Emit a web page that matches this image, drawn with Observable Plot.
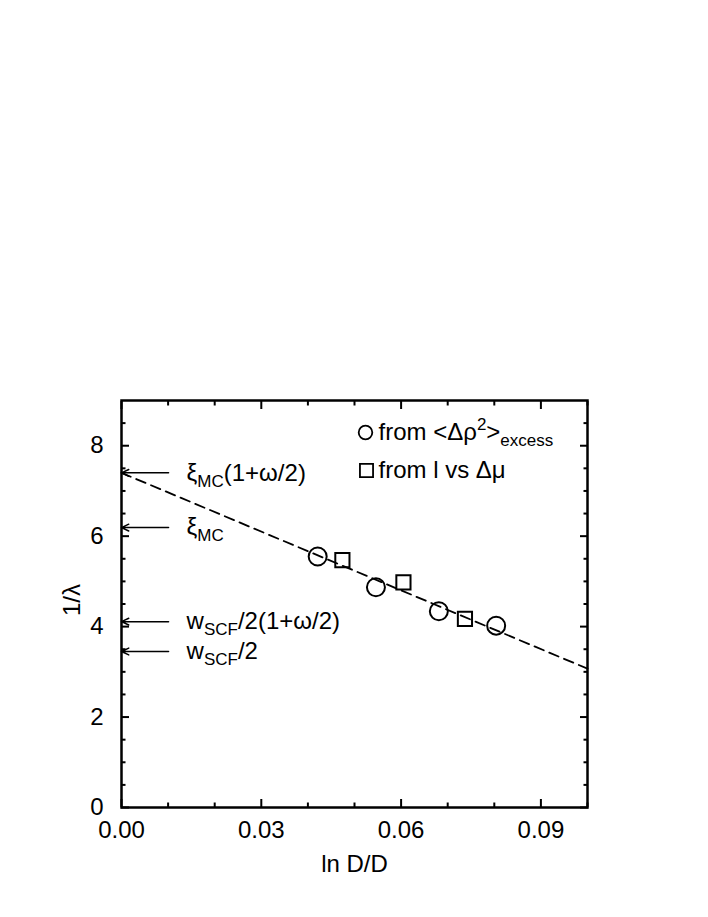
<!DOCTYPE html>
<html><head><meta charset="utf-8">
<script src="https://cdn.jsdelivr.net/npm/d3@7"></script>
<script src="https://cdn.jsdelivr.net/npm/@observablehq/plot@0.6"></script>
<style>
body{margin:0;background:#fff}
#chart{position:relative;width:708px;height:917px}
</style>
</head><body><div id="chart"></div>
<script>
// ---- data ----
const circleX = [0.0421, 0.0546, 0.0681, 0.0804];
const circleY = [5.55, 4.87, 4.34, 4.02];
const squareX = [0.0474, 0.0605, 0.0737];
const squareY = [5.47, 4.98, 4.17];
const fitX = [0, 0.1];
const fitY = [7.40, 3.07];
const arrowY = [7.40, 6.19, 4.11, 3.45];
const arrowTailX = 0.0101;
const arrowLabelParts = [
  [["ξ"], ["MC", "sub"], ["(1+ω/2)"]],
  [["ξ"], ["MC", "sub"]],
  [["w"], ["SCF", "sub"], ["/2(1+ω/2)"]],
  [["w"], ["SCF", "sub"], ["/2"]]
];
const legendParts = [
  [["from <Δρ"], ["2", "sup"], [">"], ["excess", "sub"]],
  [["from l vs Δμ"]]
];
const xTicks = [0, 0.03, 0.06, 0.09];
const xMinor = [0.01, 0.02, 0.04, 0.05, 0.07, 0.08, 0.1];
const yTicks = [0, 2, 4, 6, 8];
const yMinor = [0.5, 1, 1.5, 2.5, 3, 3.5, 4.5, 5, 5.5, 6.5, 7, 7.5, 8.5];
const xLabel = "ln D/D";
const yLabel = "1/λ";

// ---- derived tables ----
const plain = parts => parts.map(p => p[0]).join("");
const circles = circleX.map((x, i) => ({x, y: circleY[i]}));
const squares = squareX.map((x, i) => ({x, y: squareY[i]}));
const fit = fitX.map((x, i) => ({x, y: fitY[i]}));
const arrows = arrowY.map((y, i) => ({y, x1: arrowTailX, x2: 0, label: plain(arrowLabelParts[i])}));
const richMap = new Map([...arrowLabelParts, ...legendParts].map(p => [plain(p), p]));

const FONT = "'Liberation Sans', Arial, Helvetica, sans-serif";
const FS = 24;
const SFS = 17;

const plot = Plot.plot({
  width: 708,
  height: 917,
  marginLeft: 121,
  marginRight: 121,
  marginTop: 400,
  marginBottom: 110,
  style: {fontFamily: FONT, fontSize: FS + "px", color: "#000", background: "#fff"},
  x: {domain: [0, 0.1]},
  y: {domain: [0, 9]},
  marks: [
    // inward ticks on all four sides
    Plot.axisX(xTicks, {anchor: "bottom", tickSize: -8, strokeWidth: 2, tickFormat: () => "", label: null}),
    Plot.axisX(xTicks, {anchor: "top", tickSize: -8, strokeWidth: 2, tickFormat: () => "", label: null}),
    Plot.axisX(xMinor, {anchor: "bottom", tickSize: -4.5, strokeWidth: 2, tickFormat: () => "", label: null}),
    Plot.axisX(xMinor, {anchor: "top", tickSize: -4.5, strokeWidth: 2, tickFormat: () => "", label: null}),
    Plot.axisY(yTicks, {anchor: "left", tickSize: -8, strokeWidth: 2, tickFormat: () => "", label: null}),
    Plot.axisY(yTicks, {anchor: "right", tickSize: -8, strokeWidth: 2, tickFormat: () => "", label: null}),
    Plot.axisY(yMinor, {anchor: "left", tickSize: -4.5, strokeWidth: 2, tickFormat: () => "", label: null}),
    Plot.axisY(yMinor, {anchor: "right", tickSize: -4.5, strokeWidth: 2, tickFormat: () => "", label: null}),
    // tick labels
    Plot.axisX(xTicks, {anchor: "bottom", tickSize: 0, tickPadding: 13, tickFormat: d3.format(".2f"), label: null, fontSize: FS}),
    Plot.axisY(yTicks, {anchor: "left", tickSize: 0, tickPadding: 18, tickFormat: d3.format("d"), label: null, fontSize: FS}),
    Plot.frame({stroke: "#000", strokeWidth: 2.5}),
    // fit line
    Plot.line(fit, {x: "x", y: "y", stroke: "#000", strokeWidth: 1.8, strokeDasharray: "10,6"}),
    // data
    Plot.dot(circles, {x: "x", y: "y", r: 9, symbol: "circle", stroke: "#000", strokeWidth: 2, fill: "none"}),
    Plot.dot(squares, {x: "x", y: "y", r: 8, symbol: "square", stroke: "#000", strokeWidth: 2, fill: "none"}),
    // arrows and labels
    Plot.arrow(arrows, {x1: "x1", y1: "y", x2: "x2", y2: "y", stroke: "#000", strokeWidth: 1.5, headLength: 8, headAngle: 50}),
    Plot.text(arrows, {x: "x1", y: "y", text: "label", dx: 18, textAnchor: "start", lineAnchor: "middle", fontSize: FS, fill: "#000"}),
    // legend
    Plot.dot([0], {frameAnchor: "top-left", dx: 244, dy: 32, r: 6.8, symbol: "circle", stroke: "#000", strokeWidth: 1.8, fill: "none"}),
    Plot.dot([0], {frameAnchor: "top-left", dx: 245, dy: 70, r: 7.4, symbol: "square", stroke: "#000", strokeWidth: 1.8, fill: "none"}),
    Plot.text([plain(legendParts[0])], {frameAnchor: "top-left", dx: 257, dy: 32, textAnchor: "start", lineAnchor: "middle", fontSize: FS, fill: "#000"}),
    Plot.text([plain(legendParts[1])], {frameAnchor: "top-left", dx: 257, dy: 70, textAnchor: "start", lineAnchor: "middle", fontSize: FS, fill: "#000"}),
    // axis titles
    Plot.text([xLabel], {frameAnchor: "bottom", dy: 57, textAnchor: "middle", lineAnchor: "middle", fontSize: FS, fill: "#000"}),
    Plot.text([yLabel], {frameAnchor: "left", dx: -49, dy: -4, rotate: -90, textAnchor: "middle", lineAnchor: "middle", fontSize: FS, fill: "#000"})
  ]
});

// rich text: subscripts / superscripts as tspans
d3.select(plot).selectAll("text").each(function() {
  const parts = richMap.get(this.textContent);
  if (!parts) return;
  const el = d3.select(this);
  el.text(null);
  let shift = 0;
  for (const [t, kind] of parts) {
    const target = kind === "sub" ? 6 : kind === "sup" ? -10 : 0;
    el.append("tspan")
      .attr("dy", target - shift)
      .attr("font-size", kind ? SFS : FS)
      .text(t);
    shift = target;
  }
});

document.getElementById("chart").appendChild(plot);
</script>
</body></html>
